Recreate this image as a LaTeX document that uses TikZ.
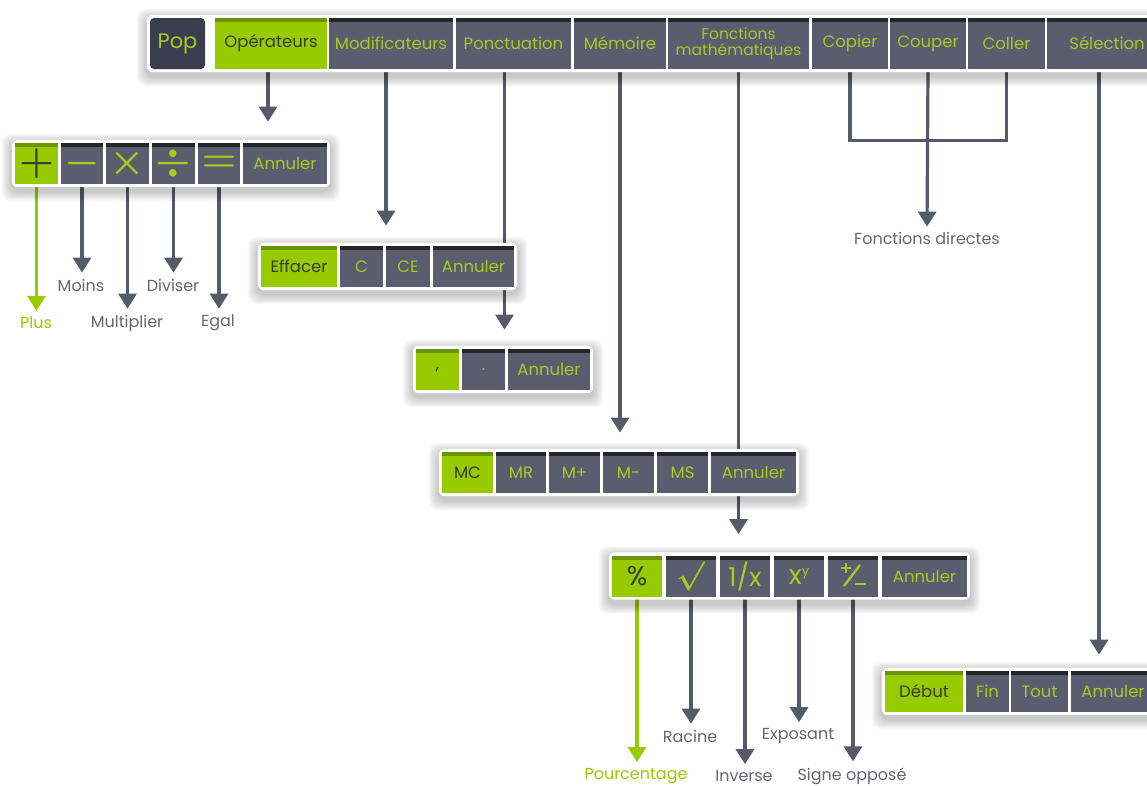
\documentclass[tikz,border=0pt]{standalone}
\usepackage{fontspec}
\setmainfont{Poppins}
\usetikzlibrary{arrows.meta,fit}
\definecolor{lime}{RGB}{152,202,0}
\definecolor{limedark}{RGB}{105,150,0}
\definecolor{keygrey}{RGB}{89,93,109}
\definecolor{keytop}{RGB}{38,38,42}
\definecolor{popgrey}{RGB}{58,61,77}
\definecolor{keytext}{RGB}{166,202,36}
\definecolor{darktext}{RGB}{55,62,45}
\definecolor{arrowgrey}{RGB}{86,90,104}
\definecolor{tagtext}{RGB}{100,102,112}
\pgfdeclarelayer{back}
\pgfdeclarelayer{shade}
\pgfdeclarelayer{mid}
\pgfsetlayers{back,shade,mid,main}
\tikzset{
	btn/.style={rectangle, fill=keygrey, text=keytext, minimum height=41pt, inner sep=0pt,
		font=\fontsize{16.5}{18}\selectfont,
		path picture={\fill[keytop] (path picture bounding box.north west) rectangle ([yshift=-4pt]path picture bounding box.north east);}},
	btnon/.style={btn, fill=lime, text=darktext,
		path picture={\fill[limedark] (path picture bounding box.north west) rectangle ([yshift=-4pt]path picture bounding box.north east);}},
	popbtn/.style={rectangle, fill=popgrey, text=keytext, rounded corners=4pt, inner sep=0pt,
		font=\fontsize{21}{23}\selectfont},
	barframe/.style={fill=white, rounded corners=6pt, inner sep=3pt},
	link/.style={draw=arrowgrey, line width=3.2pt},
	arr/.style={link, -{Triangle[width=18pt,length=15pt]}},
	arrg/.style={arr, draw=lime},
	tag/.style={text=tagtext, inner sep=2pt, font=\fontsize{16}{18}\selectfont},
	topbtn/.style={minimum height=51pt, font=\fontsize{16.5}{18}\selectfont},
	glyph/.style={draw=keytext, line width=2.4pt}
}
\newcommand\softshadow[1]{\begin{pgfonlayer}{shade}
	\foreach \s in {1,...,10}{\fill[black, opacity=.022, rounded corners=9pt] ([shift={(-\s,-\s+4)}]#1.north west) rectangle ([shift={(\s,\s+4)}]#1.south east);}
\end{pgfonlayer}}
\newcommand\bigsym[1]{\scalebox{2.3}{\boldmath$#1$}}
\begin{document}
\begin{tikzpicture}[x=1pt,y=-1pt]
			%%%%% START %%%%%
			\useasboundingbox (0,0) rectangle (1147,785);
			
			% top bar
			\node[popbtn, minimum width=55pt, minimum height=51pt] (pop) at (177.5,43.5) {Pop};
			\node[btnon, topbtn, minimum width=112pt] (oper) at (271,43.5) {Opérateurs};
			\node[btn, topbtn, minimum width=124pt] (modif) at (391,43.5) {Modificateurs};
			\node[btn, topbtn, minimum width=115pt] (ponct) at (513.5,43.5) {Ponctuation};
			\node[btn, topbtn, minimum width=92pt] (memo) at (620,43.5) {Mémoire};
			\node[btn, topbtn, minimum width=141pt, align=center, font=\fontsize{15.5}{16}\selectfont] (fmath) at (738.5,43.5) {Fonctions\\mathématiques};
			\node[btn, topbtn, minimum width=76pt] (copier) at (850,43.5) {Copier};
			\node[btn, topbtn, minimum width=76pt] (couper) at (928,43.5) {Couper};
			\node[btn, topbtn, minimum width=77pt] (coller) at (1006.5,43.5) {Coller};
			\node[btn, topbtn, minimum width=120pt] (select) at (1107,43.5) {Sélection};
			
			% operateurs
			\node[btnon, minimum width=43pt] (plus) at (36.5,163.5) {\bigsym{+}};
			\node[btn, minimum width=42pt] (moins) at (82,163.5) {\bigsym{-}};
			\node[btn, minimum width=43pt] (mult) at (127.5,163.5) {\bigsym{\times}};
			\node[btn, minimum width=43pt] (divi) at (173.5,163.5) {\bigsym{\div}};
			\node[btn, minimum width=42pt] (egal) at (219,163.5) {\bigsym{=}};
			\node[btn, minimum width=84pt] (annOp) at (285,163.5) {Annuler};
			
			% modificateurs
			\node[btnon, minimum width=76pt] (eff) at (299,266.5) {Effacer};
			\node[btn, minimum width=43pt] (cc) at (361.5,266.5) {C};
			\node[btn, minimum width=44pt] (ce) at (408,266.5) {CE};
			\node[btn, minimum width=81pt] (annMod) at (473.5,266.5) {Annuler};
			
			% ponctuation
			\node[btnon, minimum width=43pt] (virg) at (437.5,369.5) {,};
			\node[btn, minimum width=43pt] (pt) at (483.5,369.5) {.};
			\node[btn, minimum width=82pt] (annPon) at (549,369.5) {Annuler};
			
			% memoire
			\node[btnon, minimum width=51pt] (mc) at (467.5,472.5) {MC};
			\node[btn, minimum width=50pt] (mr) at (521,472.5) {MR};
			\node[btn, minimum width=51pt] (mplus) at (574.5,472.5) {M+};
			\node[btn, minimum width=51pt] (mmoins) at (628.5,472.5) {M-};
			\node[btn, minimum width=51pt] (ms) at (682.5,472.5) {MS};
			\node[btn, minimum width=85pt] (annMem) at (753.5,472.5) {Annuler};
			
			% fonctions mathematiques
			\node[btnon, minimum width=50pt, font=\fontsize{27}{27}\selectfont] (pct) at (637,576) {\%};
			\node[btn, minimum width=50pt] (rac) at (691,576) {\scalebox{1.7}{\boldmath$\surd$}};
			\node[btn, minimum width=50pt, font=\fontsize{26}{26}\selectfont] (inv) at (745,576) {1/x};
			\node[btn, minimum width=50pt, font=\fontsize{27}{27}\selectfont] (expo) at (799,576) {x\raisebox{9pt}{\fontsize{13}{13}\selectfont y}};
			\node[btn, minimum width=50pt] (sgn) at (853,576) {};
			\draw[glyph] ([shift={(-12,-8)}]sgn.center) -- ([shift={(-2,-8)}]sgn.center);
			\draw[glyph] ([shift={(-7,-13)}]sgn.center) -- ([shift={(-7,-3)}]sgn.center);
			\draw[glyph] ([shift={(-9,10)}]sgn.center) -- ([shift={(7,-11)}]sgn.center);
			\draw[glyph] ([shift={(2,8)}]sgn.center) -- ([shift={(13,8)}]sgn.center);
			\node[btn, minimum width=85pt] (annFm) at (924.5,576) {Annuler};
			
			% selection
			\node[btnon, minimum width=78pt] (deb) at (924,691.5) {Début};
			\node[btn, minimum width=43pt] (fin) at (987.5,691.5) {Fin};
			\node[btn, minimum width=57pt] (tout) at (1039.5,691.5) {Tout};
			\node[btn, minimum width=84pt] (annSel) at (1113,691.5) {Annuler};
			
			% frames
			\begin{pgfonlayer}{mid}
			\node[barframe, fit=(pop)(select)] (topbar) {};
			\node[barframe, fit=(plus)(annOp)] (opbar) {};
			\node[barframe, fit=(eff)(annMod)] (modbar) {};
			\node[barframe, fit=(virg)(annPon)] (ponbar) {};
			\node[barframe, fit=(mc)(annMem)] (membar) {};
			\node[barframe, fit=(pct)(annFm)] (fmbar) {};
			\node[barframe, fit=(deb)(annSel)] (selbar) {};
			\end{pgfonlayer}
			\softshadow{topbar}
			\softshadow{opbar}
			\softshadow{modbar}
			\softshadow{ponbar}
			\softshadow{membar}
			\softshadow{fmbar}
			\softshadow{selbar}
			
			% labels
			\node[tag, text=lime] (lPlus) at (36,323) {Plus};
			\node[tag] (lMoins) at (81,285) {Moins};
			\node[tag] (lMult) at (127,323) {Multiplier};
			\node[tag] (lDivi) at (173,285) {Diviser};
			\node[tag] (lEgal) at (218,323) {Egal};
			\node[tag] (lDirect) at (927,238) {Fonctions directes};
			\node[tag, text=lime] (lPct) at (636,776) {Pourcentage};
			\node[tag] (lRac) at (690,736) {Racine};
			\node[tag] (lInv) at (744,776) {Inverse};
			\node[tag] (lExpo) at (798,736) {Exposant};
			\node[tag] (lSgn) at (852,776) {Signe opposé};
			
			% arrows
			\begin{pgfonlayer}{back}
			\draw[arr, shorten >=18pt] ([xshift=-3pt]oper.south) -- ([xshift=-3pt]oper.south |- opbar.north);
			\draw[arr, shorten >=17pt] ([xshift=-5pt]modif.south) -- ([xshift=-5pt]modif.south |- modbar.north);
			\draw[arr, shorten >=16pt] ([xshift=-9pt]ponct.south) -- ([xshift=-9pt]ponct.south |- ponbar.north);
			\draw[arr, shorten >=16pt] (memo.south) -- (memo.south |- membar.north);
			\draw[arr, shorten >=18pt] (fmath.south) -- (fmath.south |- fmbar.north);
			\draw[arr, shorten >=13pt] ([xshift=-8pt]select.south) -- ([xshift=-8pt]select.south |- selbar.north);
			\draw[link] (copier.south) -- ++(0,71) -| (coller.south);
			\draw[arr, shorten >=3pt] (couper.south) -- (lDirect.north);
			
			\draw[arrg, shorten >=4pt] (plus.south) -- (plus.south |- lPlus.north);
			\draw[arr, shorten >=4pt] (moins.south) -- (moins.south |- lMoins.north);
			\draw[arr, shorten >=4pt] (mult.south) -- (mult.south |- lMult.north);
			\draw[arr, shorten >=4pt] (divi.south) -- (divi.south |- lDivi.north);
			\draw[arr, shorten >=4pt] (egal.south) -- (egal.south |- lEgal.north);
			
			\draw[arrg, shorten >=4pt] (pct.south) -- (pct.south |- lPct.north);
			\draw[arr, shorten >=4pt] (rac.south) -- (rac.south |- lRac.north);
			\draw[arr, shorten >=4pt] (inv.south) -- (inv.south |- lInv.north);
			\draw[arr, shorten >=4pt] (expo.south) -- (expo.south |- lExpo.north);
			\draw[arr, shorten >=4pt] (sgn.south) -- (sgn.south |- lSgn.north);
			\end{pgfonlayer}
			
			%%%%% END %%%%%
\end{tikzpicture}
\end{document}
